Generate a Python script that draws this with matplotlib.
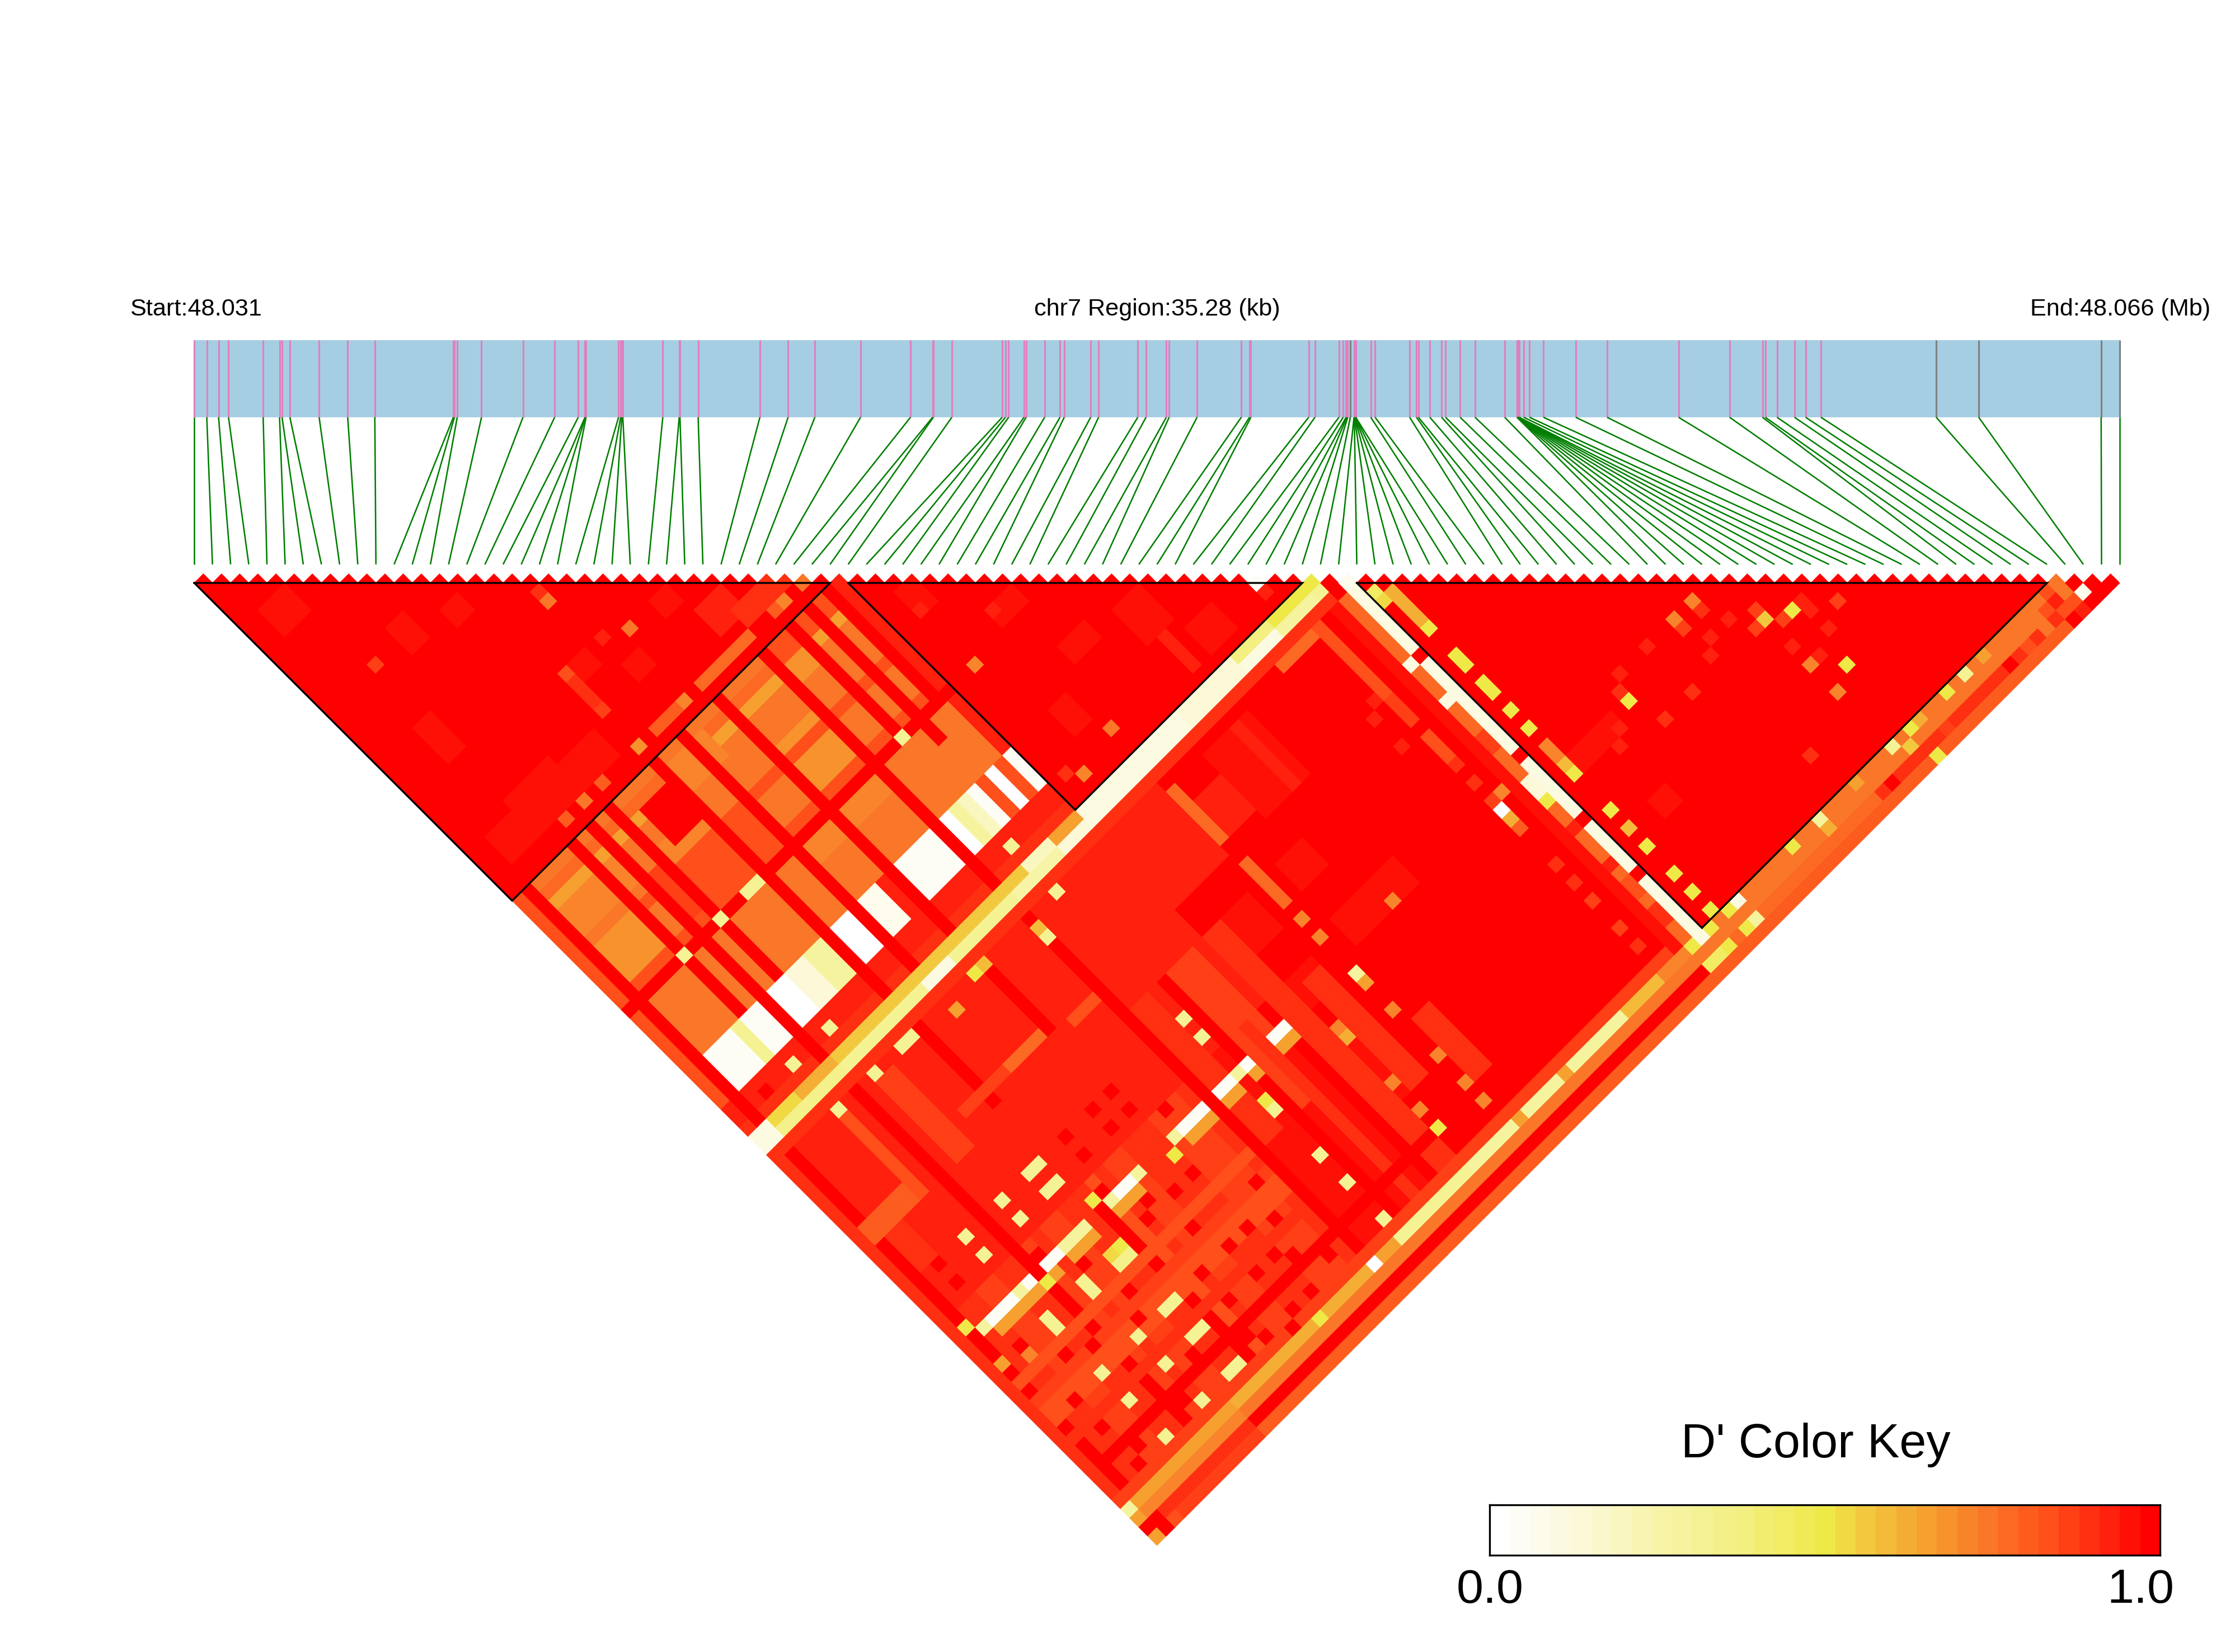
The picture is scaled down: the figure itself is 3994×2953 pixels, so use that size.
import numpy as np
import matplotlib
matplotlib.use('Agg')
import matplotlib.pyplot as plt
from matplotlib.collections import PolyCollection, LineCollection
from matplotlib.colors import LinearSegmentedColormap
from matplotlib.patches import Rectangle

plt.rcParams['font.family'] = ['Liberation Sans', 'DejaVu Sans']

# snp positions, kb from region start
snp_kb = [0,.229,.445,.627,1.262,1.562,1.608,1.752,2.288,2.811,3.308,4.747,4.766,4.818,5.263,6.022,
          6.603,7.035,7.159,7.166,7.178,7.774,7.813,7.833,7.852,8.584,8.885,8.899,9.232,10.363,
          10.880,11.370,12.207,13.123,13.528,13.541,13.880,14.803,14.862,14.921,15.202,15.241,
          15.581,15.862,15.940,16.424,16.569,17.287,17.438,17.810,17.862,18.373,19.184,19.334,
          19.360,20.418,20.533,20.973,21.051,21.104,21.119,21.135,21.182,21.250,21.255,21.260,
          21.265,21.270,21.275,21.282,21.558,21.637,22.270,22.395,22.431,22.641,22.855,22.929,
          23.196,23.468,24.012,24.236,24.241,24.246,24.251,24.256,24.261,24.266,24.271,24.276,
          24.362,24.467,24.723,25.314,25.889,27.198,28.133,28.735,28.787,29.002,29.323,29.526,
          29.807,31.919,32.697,34.940,35.28]
grey_snps = [62,103,104,105,106]
region_kb = 35.28
blocks = [(0,35),(36,61),(64,102)]

# D': (i0,i1,j0,j1,value), later entries overwrite earlier ones
zones = [
    # block 1 texture
    (2,4,6,8,.96),(12,13,16,17,.96),(4,5,21,24,.96),(16,17,26,27,.96),(15,15,27,29,.88),(19,20,29,30,.96),
    (24,25,27,28,.96),(8,9,14,16,.96),(26,28,30,32,.93),
    (22,27,34,34,.78),(10,13,31,33,.95),(28,33,32,33,.9),(5,9,30,33,.96),(2,5,31,33,.95),
    # block 2 texture
    (38,39,40,42,.96),(49,51,53,56,.94),(42,44,46,47,.96),(44,46,52,53,.96),(52,54,58,60,.95),
    (50,50,57,60,.93),(40,41,55,57,.95),
    # orange rectangle i 0-35 x j 36-61
    (0,35,36,54,.74),(0,35,38,38,.66),(0,35,37,37,.78),(2,8,39,41,.70),(23,26,42,46,.69),(18,26,49,50,.70),
    (28,29,38,39,.68),(11,14,41,43,.72),(16,19,37,39,.7),(0,35,47,47,.82),(0,35,43,43,.83),(2,5,43,46,.68),
    (11,17,44,46,.82),(28,33,36,37,.82),(12,15,38,41,1),(8,10,42,46,.86),(0,0,36,61,.83),
    (0,35,55,58,.83),
    (2,4,55,58,.06),(5,5,55,58,.32),(6,7,55,58,.04),(9,10,55,58,.03),(11,12,55,58,.15),(13,14,55,58,.3),
    (16,17,55,58,.03),(19,20,55,58,.07),(21,21,55,58,.92),(23,26,55,58,.05),(28,28,55,58,.03),(29,29,55,58,.3),(30,30,55,58,.2),
    (31,31,55,58,.05),(33,33,55,58,.02),(35,35,55,58,.05),
    (0,35,59,61,.92),(0,35,61,61,.88),
    # red rows through the orange
    (1,1,36,61,1),(6,6,36,54,1),(8,8,36,61,1),(10,10,36,54,1),(15,15,36,61,1),(18,18,36,61,1),(22,22,36,61,1),
    (27,27,36,61,1),(30,30,36,47,1),(32,32,36,50,1),(34,34,36,48,1),(35,35,36,54,.92),
    (0,35,48,48,1),
    # diamond under the bands
    (0,61,65,102,1),(0,35,65,82,.92),(36,41,65,72,.92),(42,45,68,71,.92),(44,46,76,78,.96),(36,40,76,79,.94),
    (0,26,83,102,.9),(27,35,83,102,.95),(46,50,66,72,.96),(44,50,82,84,.95),(36,40,83,85,.94),
    (36,40,90,95,.94),
    # stripes in the diamond
    (42,42,66,71,.78),(42,42,74,78,.76),(59,59,65,72,.83),(59,59,73,75,.85),(59,59,77,79,.82),
    (55,58,65,65,.76),(49,49,66,72,.93),
    (32,33,76,90,.86),(36,37,76,92,.88),(39,40,84,95,.88),(34,34,76,84,.85),(28,29,76,90,.88),(43,44,92,98,.9),
    (31,31,76,101,1),(35,35,83,101,1),
    (1,1,65,102,1),(8,8,65,102,1),(15,15,65,73,1),(15,15,85,102,1),(22,22,65,72,1),(27,27,65,102,1),
    (6,6,66,74,.83),(10,11,66,74,.85),(0,5,73,74,.8),(18,21,72,72,.76),(13,17,72,72,.85),(24,26,73,73,.83),
    (2,3,75,78,.88),(6,7,84,102,.88),(4,5,83,102,.85),(9,9,83,102,.85),(11,12,83,102,.86),(16,16,83,102,.83),
    (18,19,83,102,.85),(23,25,83,102,.85),(33,33,83,102,.88),(36,37,87,102,.9),
    (0,26,90,90,.84),(0,26,92,92,.86),(0,26,96,96,.88),(0,26,93,93,.84),
    (0,45,99,99,1),(0,26,94,94,.84),(0,0,65,102,.88),
    # j = 61..64 bands
    (36,61,62,64,1),
    (0,61,62,62,.56),(0,61,63,63,.33),(0,61,64,64,.88),(0,1,62,63,.12),(2,8,62,62,.52),(2,8,63,63,.36),
    (5,8,62,62,.62),(18,20,63,63,.12),(28,32,63,63,.25),(30,32,62,62,.2),(33,35,62,62,.65),(33,35,63,63,.15),
    (36,38,62,63,.12),(39,46,62,63,.1),(47,52,62,63,.15),(53,56,62,62,.38),(53,56,63,63,.1),(57,60,62,62,.5),(57,60,63,63,.3),
    # i = 62..64 bands
    (62,62,65,102,.76),(63,63,65,102,.1),(64,64,65,102,1),(61,61,65,102,.95),
    (62,62,72,72,.1),(62,62,76,76,.1),(62,62,80,81,.85),(62,62,85,86,.15),(62,62,87,87,.5),(62,62,90,90,.92),
    (62,62,94,94,.92),(62,62,96,97,.82),(62,62,99,100,.9),
    (63,63,72,72,1),(63,63,83,83,1),(63,63,90,90,1),(63,63,96,96,1),
    # block 3 near edge
    (65,65,67,70,.63),(66,70,86,87,.96),(65,65,84,85,.7),(68,69,93,94,.95),
    # right hand lanes
    (0,100,103,103,.66),(0,100,104,104,.74),(0,100,105,105,1),(0,100,106,106,.8),
    (0,11,105,105,.9),(0,11,106,106,.85),(0,11,104,104,.72),
    (12,17,103,103,.62),(17,26,103,103,.62),(30,38,103,103,.32),(38,42,103,103,.3),(44,47,103,103,.3),(49,54,103,103,.3),(55,58,103,103,.6),
    (59,61,103,103,.72),(65,100,103,103,.74),(65,80,104,104,.75),(65,80,105,105,.78),(81,100,105,105,.9),
    (0,60,102,102,.87),
]

# single cells (i,j,value)
spots = [
    (33,34,.74),(58,59,.05),(61,62,.5),(63,64,.08),(102,103,.74),(101,103,.83),(102,104,.74),(103,105,.08),
    (101,104,.92),(102,105,.83),(103,106,1),(101,105,.83),(102,106,.92),(100,103,.74),(100,104,.83),
    (18,21,.74),(21,27,.74),(5,15,.85),(18,20,.88),(15,34,.67),(17,34,.8),(18,34,.8),(19,34,.8),(20,34,.7),
    (11,34,.8),(9,34,.75),(7,34,.8),(30,34,.8),(31,34,.7),(15,30,.85),(19,26,.92),(15,26,.83),(28,30,.93),
    (30,48,.32),(30,60,.32),(13,48,.32),(14,48,.32),(10,48,.32),(6,48,.32),(10,60,.32),(6,60,.32),
    (30,65,.32),(27,66,.6),(27,67,.32),(10,65,.32),(6,65,.32),(13,65,.32),(14,65,.32),(21,65,.5),(22,65,.6),
    (18,66,.65),(13,79,.32),(14,79,.32),(14,81,.32),(13,81,.32),(10,79,.32),(10,81,.32),(6,79,.32),(6,81,.32),
    (1,84,.5),(15,84,.5),(22,86,.5),(6,88,.32),(6,89,.32),(10,88,.32),(10,89,.32),(14,88,.5),(13,88,.52),
    (13,89,.34),(14,89,.34),(30,94,.32),(30,97,.32),(30,101,.32),(38,99,.5),(30,88,.5),(30,89,.32),
    (13,94,.32),(14,94,.32),(13,97,.32),(14,97,.32),(10,94,.32),(10,97,.32),(6,94,.32),(6,97,.32),(10,101,.32),
    (6,101,.32),(14,101,.32),(13,101,.32),(21,103,.5),(27,103,0),(1,88,.65),(8,86,.5),(30,79,.32),(30,81,.32),
    (42,80,.72),(42,82,.72),(42,86,.3),(42,87,.65),(42,90,.72),(42,95,.72),(42,98,.72),(42,100,.72),
    (48,84,.72),(38,88,.72),(38,89,.62),(38,94,.72),(38,97,.72),(57,76,.93),(58,72,.93),(57,73,.93),
    (59,80,.88),(59,82,.88),(60,84,.7),(59,84,.85),(59,85,.03),(59,86,.62),(59,87,.8),(59,91,.88),(59,93,.88),
    (59,95,.85),(59,98,.85),(59,100,.9),(38,48,.7),(38,60,.7),(37,59,.88),(42,59,.74),(58,60,.93),(42,46,.92),(38,42,.92),
    (0,106,.65),(0,105,1),(1,106,1),(0,104,.65),(0,103,.3),(1,105,1),(2,106,.83),
    # red crossings of rows 3,17,20,22 with the low columns
    *[(i,j,1) for i in (3,17,20,22) for j in (79,81,88,94,97,101)],
    (3,60,1),(3,89,.72),(12,91,1),(19,91,1),(5,91,1),(24,95,1),(9,100,1),(16,100,1),(12,98,1),(23,98,1),(5,86,1),
    (25,92,1),(18,87,1),(11,93,1),(4,100,1),(7,92,1),(19,102,1),(25,100,1),(9,84,1),(16,84,1),(24,83,1),(11,87,1),
    # j=85 pale lane and its orange neighbour
    *[(i,85,.06) for i in (3,4,5,7,9,10,17,18,24,25,26,28,29,31,34,35)],
    *[(i,85,.3) for i in (2,6,11,12,13,16,19,23,30)],
    *[(i,86,.64) for i in (3,4,5,6,7,9,11,12,13,16,17,18,24,25,26,28,29,31,34,35)],
    # block 3
    (64,66,.45),(64,67,.52),(65,71,.5),(65,74,.5),(65,75,.5),(65,77,.5),(65,78,.5),(65,80,.5),(65,82,.5),(65,86,.58),
    (65,87,.5),(65,91,.5),(65,93,.6),(65,95,.5),(65,98,.5),(65,100,.5),(65,102,.5),
    (81,84,.7),(81,85,.88),(79,84,.7),(79,85,.85),(82,87,.93),(84,89,.56),(84,88,.85),(83,89,.85),(86,90,.5),(85,90,.86),
    (87,90,.93),(87,91,.93),(89,92,.85),(87,93,.93),(84,94,.7),(85,94,.93),(86,96,.5),(84,97,.7),(76,84,.93),(80,87,.93),
    (79,88,.93),(84,92,.93),(76,89,.88),(73,84,.93),(72,85,.88),(72,86,.5),(73,89,.88),(79,99,.9),(70,87,.92),(69,88,.93),
    # upper right lanes
    (73,103,.5),(76,103,.3),(76,104,.62),(67,105,.3),(66,105,.5),(67,103,.12),(66,103,.5),(64,103,.5),(64,105,.5),
    (63,105,.45),(62,105,.45),(62,103,.5),(63,103,.1),(84,103,.32),(86,103,.5),(86,106,.5),(92,103,.32),(87,103,.62),
    (80,103,.65),(90,103,.5),(94,103,.65),(88,105,.85),(85,104,.55),(82,105,1),(95,105,1),(97,105,.83),(99,105,.74),
]

ramp_pos = [0,4,8,12,16,18,21,24,27,30,32]
ramp_col = ['#FFFFFF','#FCF8D8','#F7F4A8','#F3EF80','#EFE948','#F2C93E','#F6A030','#FA7628','#FF4F1A','#FF200D','#FF0000']
n_levels = 33
n_snp = len(snp_kb)

def build_matrix():
    d = np.ones((n_snp,n_snp))
    for i0,i1,j0,j1,v in zones:
        d[i0:i1+1,j0:j1+1] = v
    for i,j,v in spots:
        d[i,j] = v
    return d

def main():
    cmap = LinearSegmentedColormap.from_list('dkey',[(p/32,c) for p,c in zip(ramp_pos,ramp_col)],N=n_levels)
    d = build_matrix()
    fig = plt.figure(figsize=(3994/300,2953/300),dpi=300)
    ax = fig.add_axes([0,0,1,1])
    unit = 32.46
    ax.set_xlim(-347.2/unit,(3994-347.2)/unit)
    ax.set_ylim((2953-1025.8)/unit,-1025.8/unit)
    ax.axis('off')

    # LD cells
    polys,vals = [],[]
    for i in range(n_snp):
        for j in range(i+1,n_snp):
            x = (i+j)/2
            y = (j-i)/2
            polys.append([(x-.5,y),(x,y-.5),(x+.5,y),(x,y+.5)])
            vals.append(d[i,j])
    pc = PolyCollection(polys,array=np.array(vals),cmap=cmap,clim=(0,1),edgecolors='face',linewidths=.25)
    ax.add_collection(pc)

    # gene strip and connectors
    strip_top,strip_bot,conn_bot = -12.87,-8.62,-.52
    ax.add_patch(Rectangle((0,strip_top),n_snp-1,strip_bot-strip_top,fc='#A6CEE3',ec='none'))
    xs = [k/region_kb*(n_snp-1) for k in snp_kb]
    for n,x in enumerate(xs):
        col = '#808080' if n in grey_snps else '#E07FBF'
        ax.plot([x,x],[strip_top,strip_bot],color=col,lw=.75,solid_capstyle='butt')
    segs = [[(x,strip_bot),(n,conn_bot)] for n,x in enumerate(xs)]
    ax.add_collection(LineCollection(segs,colors='#007F00',linewidths=.62))

    # haplotype blocks
    for a,b in blocks:
        ax.plot([a,b,(a+b)/2,a],[.5,.5,(b-a)/2+.5,.5],color='k',lw=.8,solid_joinstyle='miter')

    # header text
    ax.text(232/3994,1-564/2953,'Start:48.031',transform=ax.transAxes,fontsize=10.4)
    ax.text(1848/3994,1-564/2953,'chr7 Region:35.28 (kb)',transform=ax.transAxes,fontsize=10.4)
    ax.text(3628/3994,1-564/2953,'End:48.066 (Mb)',transform=ax.transAxes,fontsize=10.4)

    # colour key
    cax = fig.add_axes([2661.6/3994,1-2780/2953,(3860-2661.6)/3994,(2780-2690)/2953])
    cax.imshow(np.linspace(0,1,n_levels)[None,:],cmap=cmap,vmin=0,vmax=1,aspect='auto')
    cax.set_xticks([])
    cax.set_yticks([])
    for s in cax.spines.values():
        s.set_linewidth(.8)
    fig.text(3244.6/3994,1-2605/2953,"D' Color Key",ha='center',fontsize=20.7)
    fig.text(2663/3994,1-2865/2953,'0.0',ha='center',fontsize=20.7)
    fig.text(3825/3994,1-2865/2953,'1.0',ha='center',fontsize=20.7)

    fig.savefig('out.png',dpi=300)

if __name__ == "__main__":
    main()
